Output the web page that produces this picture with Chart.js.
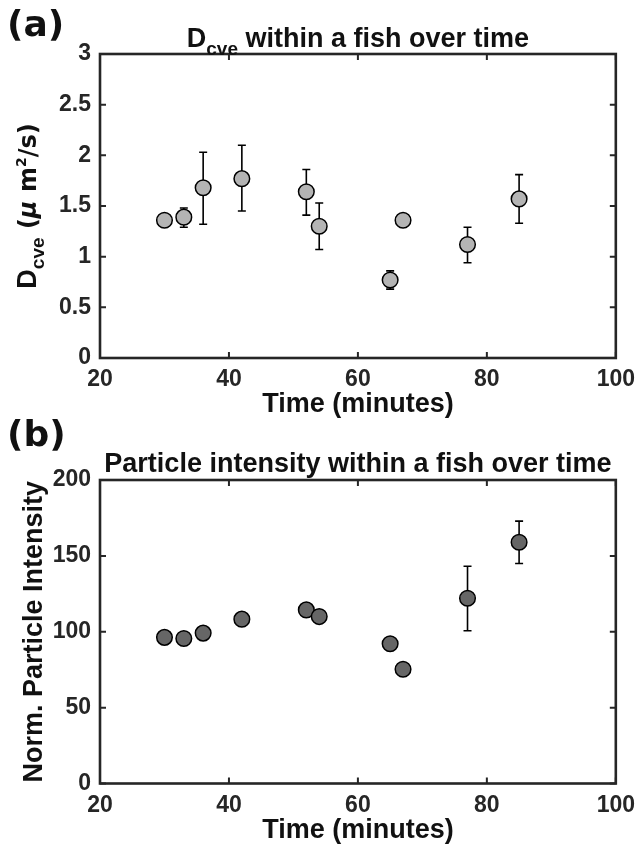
<!DOCTYPE html>
<html>
<head>
<meta charset="utf-8">
<script src="https://cdn.jsdelivr.net/npm/chart.js@4.4.1/dist/chart.umd.min.js"></script>
<style>
    body { margin: 0; background: #fff; }
    .layer { position: absolute; left: 0; top: 0; }
</style>
</head>
<body>
<canvas id="chartA" class="layer" width="643" height="850"></canvas>
<canvas id="chartB" class="layer" width="643" height="850"></canvas>
<script>
// Data
const timeMinutes = [30, 33, 36, 42, 52, 54, 65, 67, 77, 85];

const dcveMean  = [1.36, 1.39, 1.68, 1.77, 1.64, 1.30, 0.77, 1.36, 1.12, 1.57];
const dcveLower = [1.32, 1.29, 1.32, 1.45, 1.41, 1.07, 0.68, 1.33, 0.94, 1.33];
const dcveUpper = [1.40, 1.48, 2.03, 2.10, 1.86, 1.53, 0.86, 1.39, 1.29, 1.81];

const intensityMean  = [96.3, 95.6, 99.1, 108.3, 114.4, 110.0, 92.1, 75.3, 122.1, 159.0];
const intensityLower = [95.0, 94.5, 98.0, 107.0, 113.0, 106.0, 91.0, 74.0, 100.7, 145.0];
const intensityUpper = [97.5, 96.8, 100.2, 109.5, 115.8, 114.5, 93.2, 76.5, 143.2, 172.9];

const timeTicks = [20, 40, 60, 80, 100];
const dcveTicks = [0, 0.5, 1, 1.5, 2, 2.5, 3];
const intensityTicks = [0, 50, 100, 150, 200];

const INK = '#262626';
const SANS = '"Liberation Sans", Arial, sans-serif';
const DEJAVU = '"DejaVu Sans", sans-serif';

// Draw a run of text pieces (for sub/superscripts)
function drawParts(ctx, parts, x, y, align) {
    let total = 0;
    parts.forEach(p => {
        ctx.font = p.font;
        p.w = ctx.measureText(p.text).width;
        total += p.w;
    });
    let cx = align === 'center' ? x - total / 2 : x;
    parts.forEach(p => {
        ctx.font = p.font;
        ctx.fillText(p.text, cx, y + (p.dy || 0));
        cx += p.w;
    });
}

// Error bars, drawn under the markers
const errorBarPlugin = {
    id: 'errorBars',
    beforeDatasetsDraw(chart) {
        const ctx = chart.ctx;
        const xs = chart.scales.x, ys = chart.scales.y;
        chart.data.datasets.forEach(ds => {
            ctx.save();
            ctx.strokeStyle = '#000';
            ctx.lineWidth = 1.6;
            ds.data.forEach((pt, i) => {
                const px = xs.getPixelForValue(pt.x);
                const top = ys.getPixelForValue(ds.errHigh[i]);
                const bot = ys.getPixelForValue(ds.errLow[i]);
                ctx.beginPath();
                ctx.moveTo(px, top); ctx.lineTo(px, bot);
                ctx.moveTo(px - 4, top); ctx.lineTo(px + 4, top);
                ctx.moveTo(px - 4, bot); ctx.lineTo(px + 4, bot);
                ctx.stroke();
            });
            ctx.restore();
        });
    }
};

// Box around the axes with inward ticks, plus titles and labels
const matlabFramePlugin = {
    id: 'matlabFrame',
    afterDraw(chart, args, opts) {
        const ctx = chart.ctx;
        const a = chart.chartArea;
        const xs = chart.scales.x, ys = chart.scales.y;
        ctx.save();
        ctx.strokeStyle = INK;
        ctx.lineWidth = 2;
        ctx.beginPath();
        xs.ticks.forEach(t => {
            const px = xs.getPixelForValue(t.value);
            ctx.moveTo(px, a.bottom); ctx.lineTo(px, a.bottom - 6);
            ctx.moveTo(px, a.top); ctx.lineTo(px, a.top + 6);
        });
        ys.ticks.forEach(t => {
            const py = ys.getPixelForValue(t.value);
            ctx.moveTo(a.left, py); ctx.lineTo(a.left + 6, py);
            ctx.moveTo(a.right, py); ctx.lineTo(a.right - 6, py);
        });
        ctx.stroke();
        ctx.lineWidth = 2.6;
        ctx.strokeRect(a.left, a.top, a.right - a.left, a.bottom - a.top);

        ctx.fillStyle = '#111';
        ctx.textBaseline = 'alphabetic';
        ctx.textAlign = 'left';
        // panel letter
        ctx.font = 'bold 36px ' + DEJAVU;
        ctx.fillText(opts.letter.text, opts.letter.x, opts.letter.y);
        // title
        const mid = (a.left + a.right) / 2;
        drawParts(ctx, opts.title, mid, opts.titleY, 'center');
        // x title
        drawParts(ctx, [{ text: 'Time (minutes)', font: 'bold 27px ' + SANS }], mid, opts.xTitleY, 'center');
        // y title (rotated)
        ctx.translate(opts.yTitleX, (a.top + a.bottom) / 2);
        ctx.rotate(-Math.PI / 2);
        drawParts(ctx, opts.yTitle, 0, 0, 'center');
        ctx.restore();
    }
};

function buildChart(canvasId, cfg) {
    const points = timeMinutes.map((t, i) => ({ x: t, y: cfg.mean[i] }));
    return new Chart(document.getElementById(canvasId), {
        type: 'scatter',
        data: {
            datasets: [{
                data: points,
                errLow: cfg.lower,
                errHigh: cfg.upper,
                pointRadius: 7.8,
                pointHoverRadius: 7.8,
                pointBackgroundColor: cfg.fill,
                pointBorderColor: '#000',
                pointBorderWidth: 1.5
            }]
        },
        options: {
            responsive: false,
            animation: false,
            events: [],
            layout: {
                padding: { left: 0, right: 22.5, top: cfg.areaTop, bottom: 850 - cfg.areaBottom - 50 }
            },
            plugins: {
                legend: { display: false },
                tooltip: { enabled: false },
                matlabFrame: cfg.text
            },
            scales: {
                x: {
                    type: 'linear',
                    min: 20, max: 100,
                    afterBuildTicks: axis => { axis.ticks = timeTicks.map(v => ({ value: v })); },
                    afterFit: axis => { axis.height = 50; },
                    grid: { display: false, drawTicks: false },
                    border: { display: false },
                    ticks: {
                        padding: 8,
                        color: INK,
                        maxRotation: 0,
                        autoSkip: false,
                        callback: v => String(v),
                        font: { family: SANS, size: 23, weight: 'bold' }
                    }
                },
                y: {
                    type: 'linear',
                    min: cfg.ticks[0], max: cfg.ticks[cfg.ticks.length - 1],
                    afterBuildTicks: axis => { axis.ticks = cfg.ticks.map(v => ({ value: v })); },
                    afterFit: axis => { axis.width = 100; },
                    grid: { display: false, drawTicks: false },
                    border: { display: false },
                    ticks: {
                        padding: 9,
                        color: INK,
                        autoSkip: false,
                        callback: v => String(v),
                        font: { family: SANS, size: 23, weight: 'bold' }
                    }
                }
            }
        },
        plugins: [errorBarPlugin, matlabFramePlugin]
    });
}

// Panel (a)
buildChart('chartA', {
    mean: dcveMean, lower: dcveLower, upper: dcveUpper,
    ticks: dcveTicks,
    fill: '#b4b4b4',
    areaTop: 54, areaBottom: 358,
    text: {
        letter: { text: '(a)', x: 7, y: 36 },
        titleY: 47,
        title: [
            { text: 'D', font: 'bold 27px ' + SANS },
            { text: 'cve', font: 'bold 19px ' + SANS, dy: 8 },
            { text: ' within a fish over time', font: 'bold 27px ' + SANS }
        ],
        xTitleY: 412,
        yTitleX: 36,
        yTitle: [
            { text: 'D', font: 'bold 27px ' + SANS },
            { text: 'cve', font: 'bold 19px ' + SANS, dy: 8 },
            { text: ' (', font: 'bold 24px ' + DEJAVU },
            { text: 'μ', font: 'italic bold 24px ' + DEJAVU },
            { text: ' m', font: 'bold 24px ' + DEJAVU },
            { text: '2', font: 'bold 14px ' + DEJAVU, dy: -10 },
            { text: '/s)', font: 'bold 24px ' + DEJAVU }
        ]
    }
});

// Panel (b)
buildChart('chartB', {
    mean: intensityMean, lower: intensityLower, upper: intensityUpper,
    ticks: intensityTicks,
    fill: '#666666',
    areaTop: 480, areaBottom: 783.5,
    text: {
        letter: { text: '(b)', x: 7, y: 446 },
        titleY: 472,
        title: [
            { text: 'Particle intensity within a fish over time', font: 'bold 27px ' + SANS }
        ],
        xTitleY: 838,
        yTitleX: 42,
        yTitle: [
            { text: 'Norm. Particle Intensity', font: 'bold 27px ' + SANS }
        ]
    }
});
</script>
</body>
</html>
